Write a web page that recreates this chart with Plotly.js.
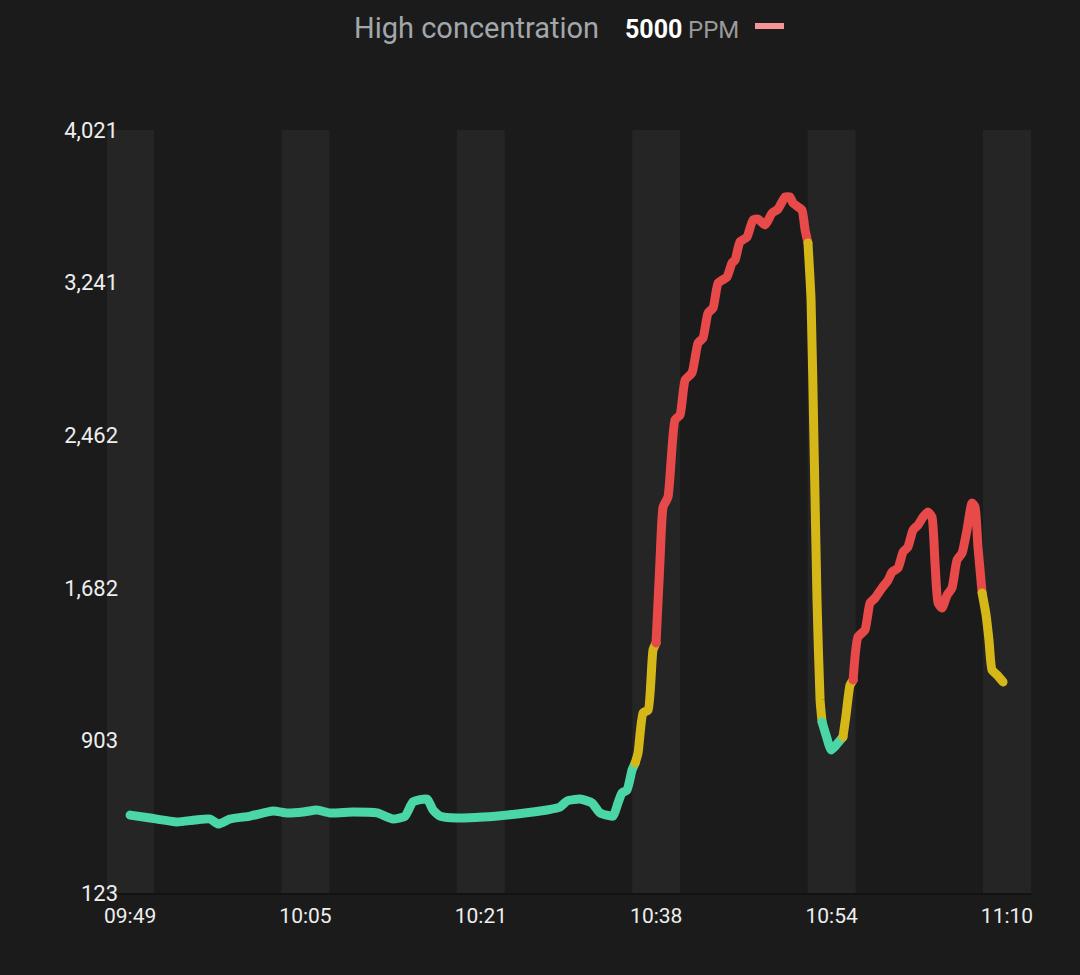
<!DOCTYPE html>
<html>
<head>
<meta charset="utf-8">
<script src="https://cdn.plot.ly/plotly-3.0.1.min.js"></script>
<style>
  html, body { margin: 0; padding: 0; background: #1b1b1b; }
  #chart { width: 1080px; height: 975px; }
  .scatterlayer .js-line { stroke-linecap: round; stroke-linejoin: round; }
</style>
</head>
<body>
<div id="chart"></div>
<script>
// ---- data ----
const day = '2024-01-01 ';
const times = [
  '09:49:30','09:51:21','09:53:50','09:55:30','09:56:53','09:57:38','09:58:44','10:00:35','10:02:42','10:04:00',
  '10:05:29','10:06:46','10:07:58','10:10:06','10:12:19','10:13:47','10:14:54','10:15:38','10:16:56','10:17:29',
  '10:18:08','10:19:42','10:22:06','10:25:15','10:28:01','10:29:13','10:29:52','10:31:04','10:32:10','10:32:55',
  '10:34:07','10:34:34','10:34:56','10:35:24','10:35:52','10:36:09','10:36:25','10:36:53','10:37:21','10:37:48',
  '10:38:05','10:38:27','10:38:44','10:39:11','10:39:50','10:40:18','10:40:46','10:41:24','10:41:58','10:42:25',
  '10:42:53','10:43:21','10:43:49','10:44:38','10:45:06','10:45:23','10:45:50','10:46:29','10:47:02','10:47:30',
  '10:48:09','10:48:48','10:49:21','10:50:00','10:50:27','10:50:44','10:51:12','10:51:34','10:51:51','10:52:07',
  '10:52:24','10:52:41','10:52:57','10:53:14','10:53:25','10:53:47','10:54:15','10:54:48','10:55:21','10:55:38',
  '10:56:00','10:56:17','10:56:44','10:57:23','10:57:51','10:58:19','10:58:57','10:59:31','10:59:53','11:00:26',
  '11:00:54','11:01:21','11:01:49','11:02:17','11:02:45','11:03:12','11:03:34','11:03:51','11:04:08','11:04:30',
  '11:04:58','11:05:25','11:05:53','11:06:21','11:06:48','11:07:16','11:07:33','11:07:49','11:08:12','11:08:34',
  '11:08:50','11:09:07','11:09:35','11:10:08'
];
const ppm = [
  521,506,486,496,501,475,501,516,542,532,
  537,547,532,537,532,501,516,588,603,547,
  516,506,511,527,547,562,593,603,583,532,
  516,583,634,649,751,787,838,1043,1058,1364,
  1400,1824,2095,2146,2540,2565,2744,2780,2933,2958,
  3086,3112,3239,3270,3342,3357,3449,3474,3561,3566,
  3536,3597,3617,3679,3679,3648,3628,3612,3510,3444,
  3153,2386,1620,1109,997,930,854,884,920,1032,
  1186,1211,1431,1467,1605,1630,1681,1722,1763,1783,
  1865,1891,1977,2003,2044,2069,2044,1809,1605,1579,
  1645,1681,1824,1860,1977,2115,2095,1891,1656,1543,
  1416,1262,1237,1201
];
// level of each point: 0 = normal, 1 = elevated, 2 = high
const level = [
  0,0,0,0,0,0,0,0,0,0,
  0,0,0,0,0,0,0,0,0,0,
  0,0,0,0,0,0,0,0,0,0,
  0,0,0,0,0,0,1,1,1,1,
  1,2,2,2,2,2,2,2,2,2,
  2,2,2,2,2,2,2,2,2,2,
  2,2,2,2,2,2,2,2,2,2,
  1,1,1,1,1,0,0,0,0,1,
  1,1,2,2,2,2,2,2,2,2,
  2,2,2,2,2,2,2,2,2,2,
  2,2,2,2,2,2,2,2,2,1,
  1,1,1,1
];
const tickTimes = ['09:49:30','10:05:42','10:21:54','10:38:06','10:54:18','11:10:30'];
const yTicks = [123, 903, 1682, 2462, 3241, 4021];
const thresholdLabel = 'High concentration';
const thresholdValue = 5000;
const unit = 'PPM';

// ---- styles ----
const levelColors = ['#4bd6a6', '#d5b818', '#e84a4a'];
const bg = '#1b1b1b';
const bandColor = '#252525';
const bandHalfSec = 133;

function toDate(t) { return day + t; }
function shiftTime(t, sec) {
  const [h, m, s] = t.split(':').map(Number);
  let tot = h * 3600 + m * 60 + s + sec;
  const hh = Math.floor(tot / 3600), mm = Math.floor((tot % 3600) / 60), ss = tot % 60;
  const p = n => String(n).padStart(2, '0');
  return day + p(hh) + ':' + p(mm) + ':' + p(ss);
}

// build colour runs; each run starts with last point of previous run
const traces = [];
let start = 0;
for (let i = 1; i <= level.length; i++) {
  if (i === level.length || level[i] !== level[start]) {
    const from = start === 0 ? 0 : start - 1;
    const xs = [], ys = [];
    for (let k = from; k < i; k++) { xs.push(toDate(times[k])); ys.push(ppm[k]); }
    traces.push({
      type: 'scatter', mode: 'lines', x: xs, y: ys,
      line: { color: levelColors[level[start]], width: 9, shape: 'spline', smoothing: 0.5 },
      hoverinfo: 'skip', showlegend: false
    });
    start = i;
  }
}

const shapes = tickTimes.map(t => ({
  type: 'rect', xref: 'x', yref: 'paper',
  x0: shiftTime(t, -bandHalfSec), x1: shiftTime(t, bandHalfSec),
  y0: 0, y1: 1, fillcolor: bandColor, line: { width: 0 }, layer: 'below'
}));
// legend swatch
shapes.push({
  type: 'line', xref: 'paper', yref: 'paper',
  x0: (755 - 107) / 924, x1: (784 - 107) / 924,
  y0: (893 - 26) / 763, y1: (893 - 26) / 763,
  line: { color: '#f49494', width: 6 }
});

const font = 'Roboto, "Noto Sans", sans-serif';
const layout = {
  width: 1080, height: 975,
  paper_bgcolor: bg, plot_bgcolor: bg,
  margin: { l: 107, r: 49, t: 130, b: 82 },
  showlegend: false,
  xaxis: {
    type: 'date',
    range: [shiftTime('09:49:30', -128), shiftTime('09:49:30', 4993)],
    tickvals: tickTimes.map(toDate),
    tickformat: '%H:%M',
    tickfont: { family: font, size: 21, color: '#eeeeee' },
    showgrid: false, zeroline: false,
    showline: true, linecolor: '#121212', linewidth: 2,
    ticks: '', ticklabelstandoff: 3
  },
  yaxis: {
    range: [123, 4021],
    tickvals: yTicks,
    tickformat: ',d',
    tickfont: { family: font, size: 22, color: '#eeeeee' },
    showgrid: false, zeroline: false, showline: false,
    ticks: '', ticklabelstandoff: -12
  },
  shapes: shapes,
  annotations: [
    { xref: 'paper', yref: 'paper', x: (601 - 107) / 924, y: (893 - 28) / 763,
      xanchor: 'right', yanchor: 'middle', showarrow: false,
      text: thresholdLabel, font: { family: font, size: 29, color: '#a2a7ab' } },
    { xref: 'paper', yref: 'paper', x: (623 - 107) / 924, y: (893 - 29) / 763,
      xanchor: 'left', yanchor: 'middle', showarrow: false,
      text: '<b>' + thresholdValue + '</b>', font: { family: font, size: 25, color: '#ffffff' } },
    { xref: 'paper', yref: 'paper', x: (686 - 107) / 924, y: (893 - 30) / 763,
      xanchor: 'left', yanchor: 'middle', showarrow: false,
      text: unit, font: { family: font, size: 24, color: '#9a9a9a' } }
  ]
};

Plotly.newPlot('chart', traces, layout, { staticPlot: true, displayModeBar: false });
</script>
</body>
</html>
